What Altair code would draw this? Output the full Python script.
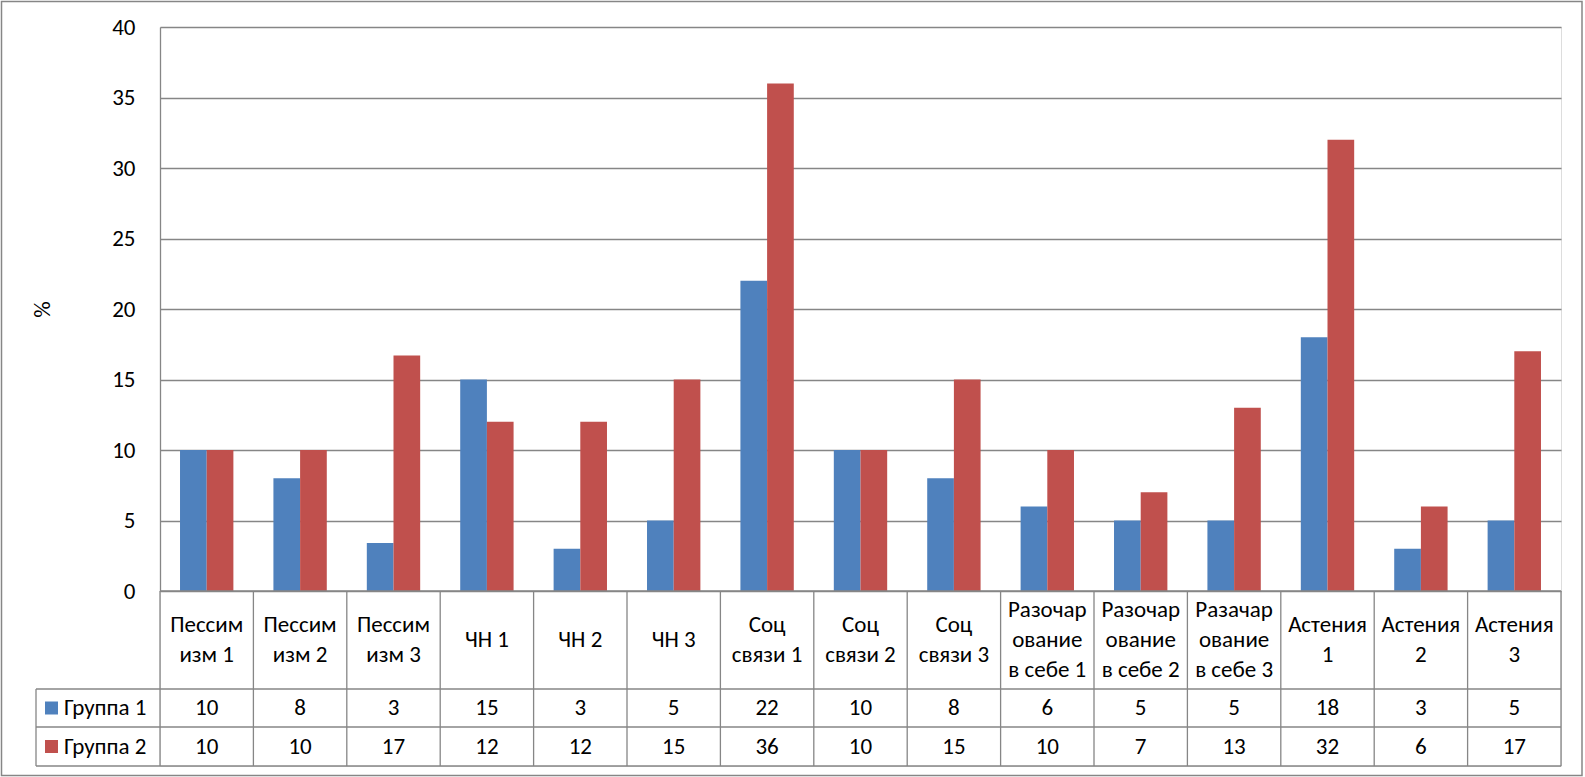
import altair as alt
import pandas as pd

categories = ["Пессимизм 1", "Пессимизм 2", "Пессимизм 3", "ЧН 1", "ЧН 2", "ЧН 3",
              "Соц связи 1", "Соц связи 2", "Соц связи 3",
              "Разочарование в себе 1", "Разочарование в себе 2", "Разачарование в себе 3",
              "Астения 1", "Астения 2", "Астения 3"]
cat_labels = ["Пессим\nизм 1", "Пессим\nизм 2", "Пессим\nизм 3", "ЧН 1", "ЧН 2", "ЧН 3",
              "Соц\nсвязи 1", "Соц\nсвязи 2", "Соц\nсвязи 3",
              "Разочар\nование\nв себе 1", "Разочар\nование\nв себе 2", "Разачар\nование\nв себе 3",
              "Астения\n1", "Астения\n2", "Астения\n3"]
group1 = [10, 8, 3.4, 15, 3, 5, 22, 10, 8, 6, 5, 5, 18, 3, 5]
group2 = [10, 10, 16.7, 12, 12, 15, 36, 10, 15, 10, 7, 13, 32, 6, 17]
series = ["Группа 1", "Группа 2"]
colors = ["#4F81BD", "#C0504D"]
y_ticks = [0, 5, 10, 15, 20, 25, 30, 35, 40]

FONT = "Carlito, Lato, sans-serif"
FS = 23
GRID = "#868686"
LH = 30

W, H = 1401, 739
PLOT_H = 564
ROW1, ROW2, ROW3 = 662, 700, 739

rows = []
for c, lab, a, b in zip(categories, cat_labels, group1, group2):
    rows.append({"cat": c, "group": series[0], "value": a, "txt": str(round(a))})
    rows.append({"cat": c, "group": series[1], "value": b, "txt": str(round(b))})
df = pd.DataFrame(rows)
cat_df = pd.DataFrame({"cat": categories, "label": cat_labels,
                       "n": [l.count("\n") + 1 for l in cat_labels]})
leg_df = pd.DataFrame({"group": series})

xscale = alt.Scale(domain=categories, paddingInner=0, paddingOuter=0)
X = alt.X("cat:N", scale=xscale, axis=None, title=None)
color = alt.Color("group:N", scale=alt.Scale(domain=series, range=colors), legend=None)

bars = alt.Chart(df).mark_bar().encode(
    x=X,
    xOffset=alt.XOffset("group:N", scale=alt.Scale(domain=series, paddingInner=0, paddingOuter=0.75)),
    y=alt.Y("value:Q", scale=alt.Scale(domain=[0, 40], range=[PLOT_H, 0], nice=False),
            axis=alt.Axis(values=y_ticks, grid=True, gridColor=GRID, gridWidth=1.3,
                          domain=True, domainColor=GRID, domainWidth=1.3, ticks=False,
                          labelFont=FONT, labelFontSize=FS, labelColor="black", labelPadding=25,
                          title="%", titleFont=FONT, titleFontSize=FS, titleFontWeight="normal",
                          titleColor="black", titlePadding=57)),
    color=color,
)

# table lines
vlines = alt.Chart(cat_df).mark_rule(color=GRID, strokeWidth=1.3).encode(
    x=alt.X("cat:N", scale=xscale, axis=None, bandPosition=1),
    y=alt.value(PLOT_H), y2=alt.value(ROW3),
)
one = alt.Data(values=[{"a": 1}])
hline0 = alt.Chart(one).mark_rule(color=GRID, strokeWidth=1.3).encode(
    x=alt.value(0), x2=alt.value(W), y=alt.value(PLOT_H))
hlines = [alt.Chart(one).mark_rule(color=GRID, strokeWidth=1.3).encode(
    x=alt.value(-124), x2=alt.value(W), y=alt.value(yy)) for yy in (ROW1, ROW2, ROW3)]
leftline = alt.Chart(one).mark_rule(color=GRID, strokeWidth=1.3).encode(
    x=alt.value(0), y=alt.value(PLOT_H), y2=alt.value(ROW3))
legleft = alt.Chart(one).mark_rule(color=GRID, strokeWidth=1.3).encode(
    x=alt.value(-124), y=alt.value(ROW1), y2=alt.value(ROW3))
border = alt.Chart(one).mark_rect(fill=None, stroke=GRID, strokeWidth=1.5).encode(
    x=alt.value(-158.5), x2=alt.value(1422), y=alt.value(-25.5), y2=alt.value(748.5))

mid = (PLOT_H + ROW1) / 2
cat_texts = [
    alt.Chart(cat_df).transform_filter(alt.datum.n == k).mark_text(
        font=FONT, fontSize=FS, color="black", lineBreak="\n", lineHeight=LH, baseline="middle").encode(
        x=X, y=alt.value(mid - (k - 1) * LH / 2), text="label:N")
    for k in (1, 2, 3)
]

t1 = alt.Chart(df[df.group == series[0]]).mark_text(font=FONT, fontSize=FS, color="black",
                                                     baseline="middle").encode(
    x=X, y=alt.value((ROW1 + ROW2) / 2), text="txt:N")
t2 = alt.Chart(df[df.group == series[1]]).mark_text(font=FONT, fontSize=FS, color="black",
                                                     baseline="middle").encode(
    x=X, y=alt.value((ROW2 + ROW3) / 2), text="txt:N")

sq1 = alt.Chart(leg_df[leg_df.group == series[0]]).mark_square(size=169, opacity=1).encode(
    x=alt.value(-108.5), y=alt.value((ROW1 + ROW2) / 2), color=color)
sq2 = alt.Chart(leg_df[leg_df.group == series[1]]).mark_square(size=169, opacity=1).encode(
    x=alt.value(-108.5), y=alt.value((ROW2 + ROW3) / 2), color=color)
lt1 = alt.Chart(leg_df[leg_df.group == series[0]]).mark_text(font=FONT, fontSize=FS, color="black",
                                                             align="left", baseline="middle").encode(
    x=alt.value(-96), y=alt.value((ROW1 + ROW2) / 2), text="group:N")
lt2 = alt.Chart(leg_df[leg_df.group == series[1]]).mark_text(font=FONT, fontSize=FS, color="black",
                                                             align="left", baseline="middle").encode(
    x=alt.value(-96), y=alt.value((ROW2 + ROW3) / 2), text="group:N")

chart = alt.layer(bars, vlines, hline0, *hlines, leftline, legleft, border,
                  *cat_texts, t1, t2, sq1, sq2, lt1, lt2).properties(
    width=W, height=H,
    autosize=alt.AutoSizeParams(type="none"),
    padding={"left": 160, "top": 27, "right": 24, "bottom": 11},
).configure_view(stroke=None).configure(background="white")

chart.save("out.html", embed_options={"renderer": "svg", "actions": False})
